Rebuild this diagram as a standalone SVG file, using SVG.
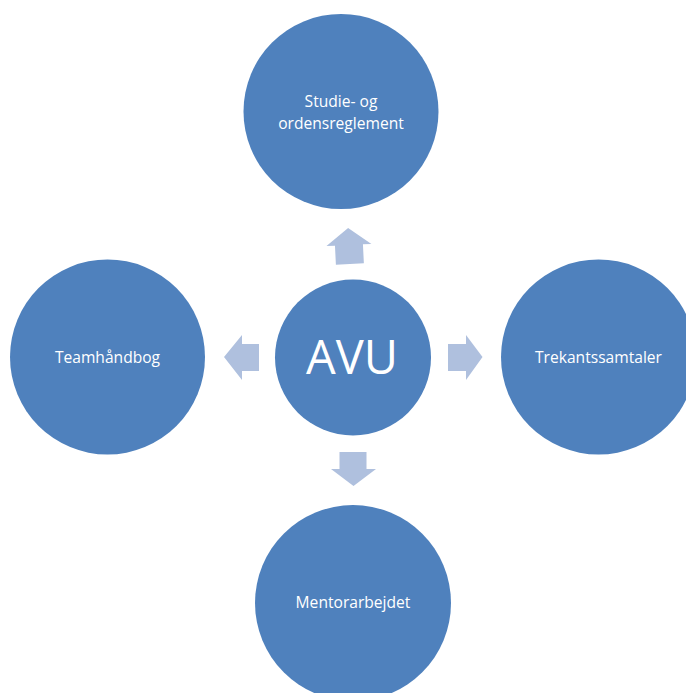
<svg xmlns="http://www.w3.org/2000/svg" width="686" height="693" viewBox="0 0 686 693">
<style>
.node{fill:#4F81BD;}
.arrow{fill:#AFC0DE;}
.lbl{font-family:"Open Sans","DejaVu Sans",sans-serif;font-size:15.6px;fill:#FFFFFF;text-anchor:middle;}
.big{font-family:"Open Sans","DejaVu Sans",sans-serif;font-size:47px;fill:#FFFFFF;text-anchor:middle;}
</style>
<rect width="686" height="693" fill="#FFFFFF"/>
<g id="connectors">
<polygon class="arrow" transform="rotate(-2.8 349 246)" points="349,228 371.5,245 363,245 363,264 335,264 335,245 326.5,245"/>
<polygon class="arrow" points="224,357 242,335 242,344 259,344 259,371 242,371 242,380"/>
<polygon class="arrow" points="482.5,357 466,335 466,344 448,344 448,371 466,371 466,380"/>
<polygon class="arrow" points="353.5,486 376,469 366.5,469 366.5,452 339.5,452 339.5,469 331,469"/>
</g>
<g id="node-avu">
<circle class="node" cx="353" cy="357.5" r="78"/>
<text class="big" x="352" y="373.5">AVU</text>
</g>
<g id="node-studie">
<circle class="node" cx="341" cy="111.5" r="97.5"/>
<text class="lbl" x="341" y="107">Studie- og</text>
<text class="lbl" x="341" y="128.5">ordensreglement</text>
</g>
<g id="node-team">
<circle class="node" cx="107.5" cy="357" r="97.5"/>
<text class="lbl" x="107.5" y="363">Teamhåndbog</text>
</g>
<g id="node-trekant">
<circle class="node" cx="598.5" cy="357" r="97.5"/>
<text class="lbl" x="598.5" y="363">Trekantssamtaler</text>
</g>
<g id="node-mentor">
<circle class="node" cx="353" cy="603" r="98"/>
<text class="lbl" x="353" y="608">Mentorarbejdet</text>
</g>
</svg>
